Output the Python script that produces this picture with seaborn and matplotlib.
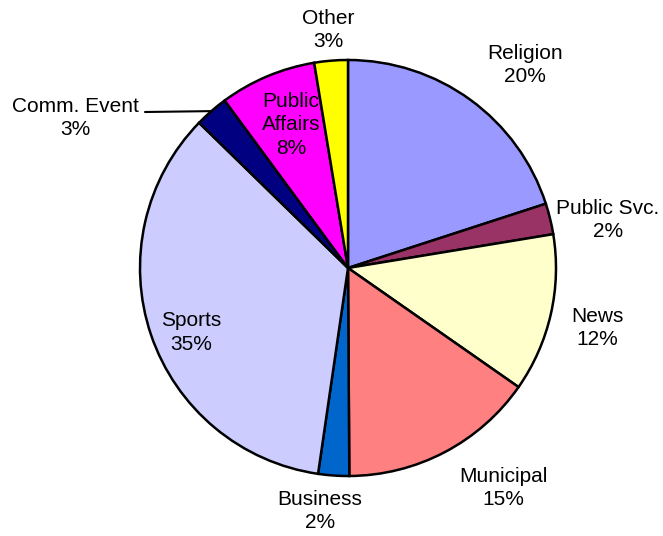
import numpy as np
import pandas as pd
import seaborn as sns
import matplotlib
matplotlib.use("Agg")
import matplotlib.pyplot as plt

# slice data, clockwise from 12 o'clock
categories = ["Religion", "Public Svc.", "News", "Municipal", "Business",
              "Sports", "Comm. Event", "Public\nAffairs", "Other"]
shares = [20.0, 2.4, 12.3, 15.2, 2.4, 35.0, 2.6, 7.5, 2.6]
colors = ["#9999FF", "#993366", "#FFFFCC", "#FF8080", "#0066CC",
          "#CCCCFF", "#000080", "#FF00FF", "#FFFF00"]

df = pd.DataFrame({"category": categories, "share": shares, "color": colors})

sns.set_theme(style="white")
plt.rcParams["font.family"] = ["Liberation Sans", "DejaVu Sans"]

fig = plt.figure(figsize=(6.63, 5.36), dpi=100)
ax = fig.add_axes([0, 0, 1, 1])

wedges, _ = ax.pie(df["share"], colors=df["color"], startangle=90,
                   counterclock=False, radius=1.0,
                   wedgeprops=dict(edgecolor="black", linewidth=1.8))

# label anchors (pie radius units, center of the text block)
label_pos = [(0.851, 0.976), (1.25, 0.231), (1.197, -0.288),
             (0.745, -1.058), (-0.135, -1.168), (-0.755, -0.31),
             (-1.31, 0.721), (-0.274, 0.6875), (-0.096, 1.144)]

for (cat, val), (lx, ly) in zip(zip(df["category"], df["share"]), label_pos):
    ax.text(lx, ly, f"{cat}\n{round(val)}%", ha="center", va="center",
            fontsize=15, linespacing=1.32, color="black")

# leader line for Comm. Event
cum = np.cumsum([0] + shares)
mid = (cum[6] + cum[7]) / 2 / 100 * 2 * np.pi
ex, ey = np.sin(mid) * 1.0, np.cos(mid) * 1.0
ax.plot([-0.976, ex], [0.75, ey], color="black", linewidth=1.5)

ax.set_xlim(-348 / 208, (663 - 348) / 208)
ax.set_ylim(-(536 - 268) / 208, 268 / 208)
ax.set_aspect("auto")
ax.axis("off")

fig.savefig("out.png", dpi=100, facecolor="white")
